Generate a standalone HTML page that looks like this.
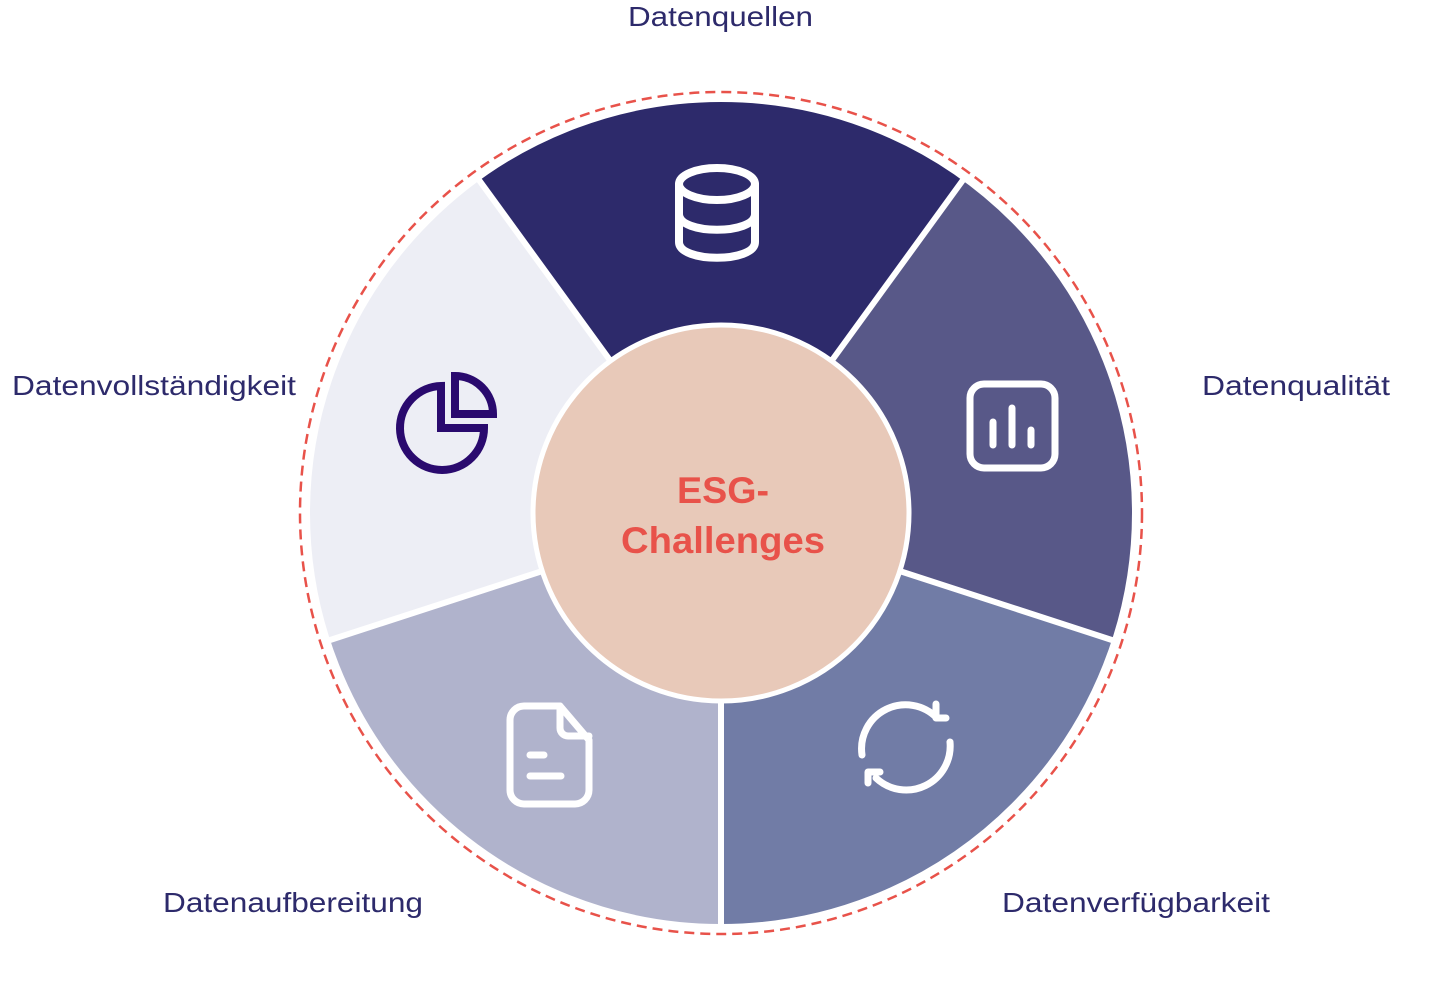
<!DOCTYPE html>
<html><head><meta charset="utf-8"><style>
html,body{margin:0;padding:0;background:#fff;}
svg{display:block}
text{font-family:"Liberation Sans",sans-serif;}
</style></head><body>
<svg width="1450" height="997" viewBox="0 0 1450 997" xmlns="http://www.w3.org/2000/svg">
<circle cx="721" cy="513" r="421" fill="none" stroke="#e8524a" stroke-width="2.5" stroke-dasharray="10 6"/>
<path d="M721 513 L478.2 178.9 A413 413 0 0 1 963.8 178.9 Z" fill="#2d2a6b"/>
<path d="M721 513 L963.8 178.9 A413 413 0 0 1 1113.8 640.6 Z" fill="#585888"/>
<path d="M721 513 L1113.8 640.6 A413 413 0 0 1 721 926 Z" fill="#717ca6"/>
<path d="M721 513 L721 926 A413 413 0 0 1 328.2 640.6 Z" fill="#b0b3cc"/>
<path d="M721 513 L328.2 640.6 A413 413 0 0 1 478.2 178.9 Z" fill="#edeef5"/>
<g stroke="#fff" stroke-width="6">
<line x1="721" y1="513" x2="478.2" y2="178.9"/>
<line x1="721" y1="513" x2="963.8" y2="178.9"/>
<line x1="721" y1="513" x2="1113.8" y2="640.6"/>
<line x1="721" y1="513" x2="721" y2="928"/>
<line x1="721" y1="513" x2="328.2" y2="640.6"/>
</g>
<circle cx="721" cy="513" r="413" fill="none" stroke="#fff" stroke-width="4"/>
<circle cx="721" cy="513" r="188" fill="#e8c9b9" stroke="#fff" stroke-width="5"/>
<text x="677" y="503" font-size="37" font-weight="bold" fill="#e8524a" textLength="92" lengthAdjust="spacingAndGlyphs">ESG-</text>
<text x="621" y="553" font-size="37" font-weight="bold" fill="#e8524a" textLength="204" lengthAdjust="spacingAndGlyphs">Challenges</text>
<!-- database -->
<g fill="none" stroke="#fff" stroke-width="8" stroke-linecap="round">
<ellipse cx="717" cy="184" rx="38" ry="16"/>
<path d="M679 184 V242 C679 263 755 263 755 242 V184"/>
<path d="M679 214 C679 235 755 235 755 214"/>
</g>
<!-- chart -->
<g fill="none" stroke="#fff" stroke-width="7" stroke-linecap="round">
<rect x="970" y="384" width="85" height="84" rx="14"/>
<line x1="993" y1="422" x2="993" y2="445"/>
<line x1="1012" y1="408" x2="1012" y2="445"/>
<line x1="1031" y1="430" x2="1031" y2="445"/>
</g>
<!-- pie -->
<g fill="none" stroke="#2a0a6e" stroke-width="8">
<path d="M441 386 A42 42 0 1 0 484 428 H441 Z"/>
<path d="M455 376 A38 38 0 0 1 493 414 H455 Z"/>
</g>
<!-- doc -->
<g fill="none" stroke="#fff" stroke-width="7" stroke-linecap="round" stroke-linejoin="round">
<path d="M524 706 H560 L589 740 V790 A14 14 0 0 1 575 804 H524 A14 14 0 0 1 510 790 V720 A14 14 0 0 1 524 706 Z"/>
<path d="M560 706 V728 A8 8 0 0 0 568 736 H589"/>
<line x1="530" y1="755" x2="544" y2="755"/>
<line x1="530" y1="776" x2="561" y2="776"/>
</g>
<!-- refresh -->
<g fill="none" stroke="#fff" stroke-width="7" stroke-linecap="round" stroke-linejoin="round">
<path d="M862 755 A44 44 0 0 1 937 718"/>
<path d="M946 718 H936 V704"/>
<path d="M950 742 A44 44 0 0 1 876 778"/>
<path d="M868 783 V772 H880"/>
</g>
<g font-size="28" fill="#2d2a6b" lengthAdjust="spacingAndGlyphs">
<text x="628" y="26" textLength="185" lengthAdjust="spacingAndGlyphs">Datenquellen</text>
<text x="1202" y="395" textLength="188" lengthAdjust="spacingAndGlyphs">Datenqualität</text>
<text x="12" y="395" textLength="284" lengthAdjust="spacingAndGlyphs">Datenvollständigkeit</text>
<text x="163" y="912" textLength="260" lengthAdjust="spacingAndGlyphs">Datenaufbereitung</text>
<text x="1002" y="912" textLength="268" lengthAdjust="spacingAndGlyphs">Datenverfügbarkeit</text>
</g>
</svg>
</body></html>
